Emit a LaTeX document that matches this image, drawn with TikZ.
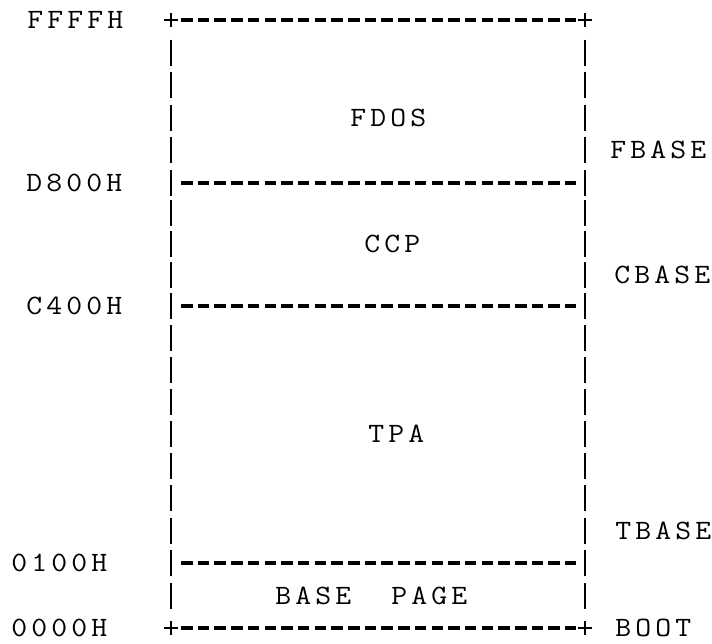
\documentclass[tikz,border=0pt]{standalone}
\usepackage{fontspec}
\usepackage{graphicx}
\makeatletter
\def\typw#1{\typw@step#1\relax}
\def\typw@step#1{\ifx#1\relax\else\makebox[20pt][c]{\scalebox{1.1}[1]{#1}}\expandafter\typw@step\fi}
\makeatother
\begin{document}
\begin{tikzpicture}[x=1pt,y=-1pt,
  bar/.style={line width=2.7pt},
  rule/.style={line width=3.2pt, dash pattern=on 11.5pt off 5.2pt},
  lab/.style={font=\ttfamily\fontsize{28pt}{29pt}\selectfont, inner sep=0pt, anchor=west}]
\useasboundingbox (0,0) rectangle (712,644);
% corner / edge coordinates
\coordinate (TL) at (171,20);
\coordinate (TR) at (585,20);
\coordinate (BL) at (171,628);
\coordinate (BR) at (585,628);
\coordinate (DL) at (171,183);
\coordinate (DR) at (585,183);
\coordinate (CL) at (171,306);
\coordinate (CR) at (585,306);
\coordinate (OL) at (171,563);
\coordinate (OR) at (585,563);
% plus signs
\foreach \c in {TL,TR,BL,BR}{
  \draw[bar] ([xshift=-7pt]\c) -- ([xshift=7pt]\c) ([yshift=7pt]\c) -- ([yshift=-7pt]\c);
}
% vertical bars, one per text row
\foreach \y in {53,85,118,150,183,213,244,275,306,338,370,402,434,466,498,531,563,596}{
  \draw[bar] (171,\y-13) -- (171,\y+13) (585,\y-13) -- (585,\y+13);
}
% horizontal dashed rules
\foreach \a/\b in {TL/TR,DL/DR,CL/CR,OL/OR,BL/BR}{
  \draw[rule] ([xshift=10pt]\a) -- ([xshift=-9pt]\b);
}
% left address labels
\node[lab] (fffff) at (25,20) {\typw{FFFFH}};
\node[lab] (d800) at (24,183) {\typw{D800H}};
\node[lab] (c400) at (24,306) {\typw{C400H}};
\node[lab] (o100) at (9,563) {\typw{0100H}};
\node[lab] (o000) at (9,628) {\typw{0000H}};
% right labels
\node[lab] (fbase) at (608,150) {\typw{FBASE}};
\node[lab] (cbase) at (612,275) {\typw{CBASE}};
\node[lab] (tbase) at (613,531) {\typw{TBASE}};
\node[lab] (boot) at (613,628) {\typw{BOOT}};
% region labels
\node[lab] (fdos) at (348,118) {\typw{FDOS}};
\node[lab] (ccp) at (362,244) {\typw{CCP}};
\node[lab] (tpa) at (366,434) {\typw{TPA}};
\node[lab] (bpage) at (273,596) {\typw{BASE}\hspace{36pt}\typw{PAGE}};
\end{tikzpicture}
\end{document}
